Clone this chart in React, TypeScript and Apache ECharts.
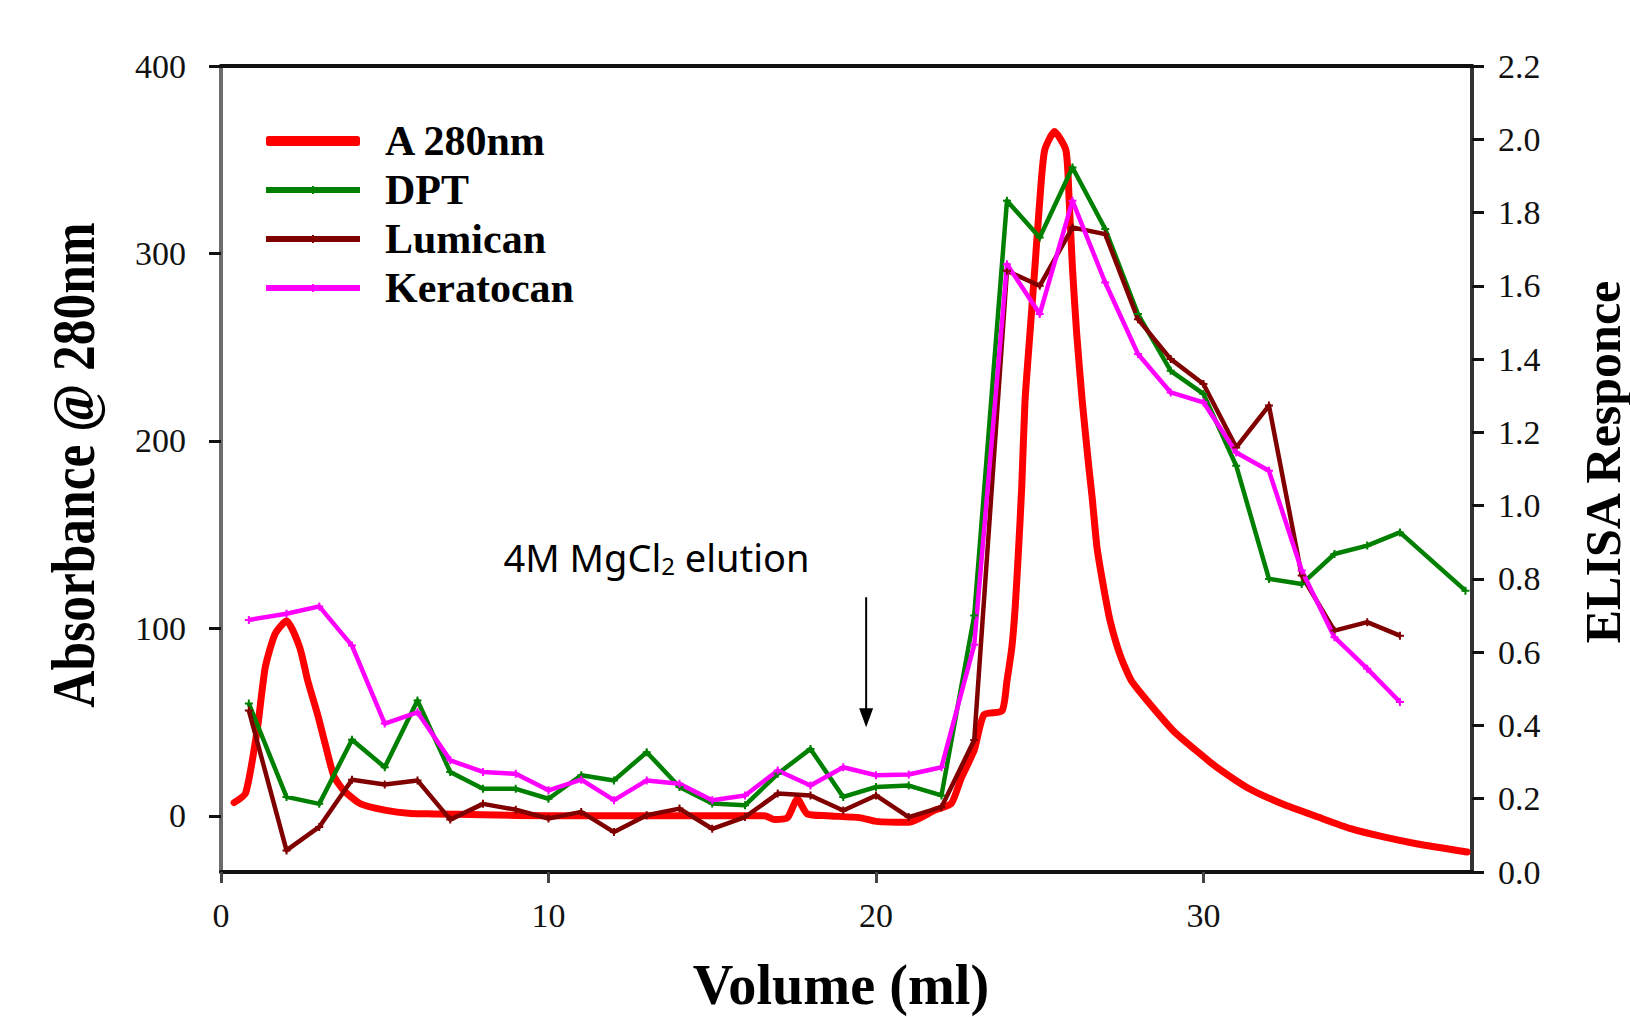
import React, { useEffect, useRef } from "react";
import * as echarts from "echarts";

// A280 absorbance (left axis)
const a280Volume = [
  0.4, 0.75, 1.1, 1.35, 1.65, 2.0, 2.4, 2.65, 2.95, 3.2,
  3.45, 3.75, 4.25, 5.0, 5.8, 6.5, 8, 10, 12, 14,
  16, 16.6, 16.9, 17.3, 17.6, 17.9, 18.5, 19.5, 20, 21,
  21.8, 22.3, 22.6, 23.0, 23.3, 23.85, 24.0, 24.15, 24.25, 24.35,
  24.45, 24.55, 24.7, 24.85, 25.0, 25.15, 25.45, 25.8, 25.9, 26.0,
  26.13, 26.3, 26.5, 26.6, 26.75, 26.95, 27.15, 27.45, 27.8, 28.3,
  29.1, 29.9, 30.4, 31.4, 32.4, 33.5, 34.5, 35.5, 36.5, 38.05,
];
const a280Absorbance = [
  7, 12, 45, 79, 97, 104, 90, 72, 54, 37,
  21, 13.5, 6.5, 3, 1.2, 1, 0.5, 0, 0, 0,
  0, 0, -2, -1, 9, 1, 0, -1, -3, -3.5,
  3, 6.5, 20, 35, 54, 56, 72, 90, 111, 141,
  175, 221, 257, 292, 328, 355, 365, 355, 328, 292,
  257, 221, 186, 170, 143, 122, 104, 86, 72, 61,
  45, 33, 26, 14.4, 6.4, -0.7, -6.9, -11.3, -14.9, -19.3,
];

// ELISA responses (right axis)
const elisaVolume = [
  0.85, 2, 3, 4, 5, 6, 7, 8, 9, 10, 11, 12, 13, 14, 15, 16, 17, 18,
  19, 20, 21, 22, 23, 24, 25, 26, 27, 28, 29, 30, 31, 32, 33, 34, 35, 36,
];
const dptVolume = [
  0.85, 2, 3, 4, 5, 6, 7, 8, 9, 10, 11, 12, 13, 14, 15, 16, 17, 18,
  19, 20, 21, 22, 23, 24, 25, 26, 27, 28, 29, 30, 31, 32, 33, 34, 35, 36, 38,
];
const dptResponse = [
  0.46, 0.205, 0.186, 0.361, 0.286, 0.468, 0.273, 0.227, 0.227, 0.2, 0.264, 0.25,
  0.327, 0.232, 0.187, 0.182, 0.268, 0.336, 0.205, 0.232, 0.236, 0.209, 0.7, 1.832,
  1.732, 1.923, 1.755, 1.523, 1.368, 1.305, 1.109, 0.8, 0.786, 0.868, 0.891, 0.927, 0.768,
];
const lumicanResponse = [
  0.441, 0.059, 0.123, 0.252, 0.239, 0.25, 0.143, 0.186, 0.17, 0.146, 0.164, 0.109,
  0.155, 0.173, 0.118, 0.15, 0.214, 0.209, 0.168, 0.209, 0.15, 0.177, 0.36, 1.641,
  1.6, 1.759, 1.741, 1.509, 1.4, 1.332, 1.159, 1.273, 0.809, 0.659, 0.682, 0.645,
];
const keratocanResponse = [
  0.688, 0.705, 0.725, 0.618, 0.405, 0.436, 0.305, 0.273, 0.268, 0.223, 0.252, 0.196,
  0.25, 0.241, 0.196, 0.209, 0.277, 0.236, 0.286, 0.264, 0.266, 0.286, 0.62, 1.659,
  1.523, 1.832, 1.609, 1.414, 1.309, 1.282, 1.145, 1.095, 0.823, 0.641, 0.555, 0.464,
];

const leftTicks = [0, 100, 200, 300, 400];
const seriesNames = ["A 280nm", "DPT", "Lumican", "Keratocan"];

// annotation anchor (data coordinates, right axis)
const arrowVolume = 19.7;
const arrowTop = 0.75;
const arrowTip = 0.395;
const labelVolume = 13.3;
const labelResponse = 0.86;

const zip = (xs: number[], ys: number[]) => xs.map((x, i) => [x, ys[i]]);

export default function App() {
  const ref = useRef<HTMLDivElement>(null);
  useEffect(() => {
    const chart = echarts.init(ref.current!, null, { renderer: "svg" });
    const serif = "'Liberation Serif', 'Times New Roman', serif";
    const sans = "'Noto Sans', 'Open Sans', sans-serif";
    const plus = "path://M3,0H5V3H8V5H5V8H3V5H0V3H3Z";
    const elisa = (name: string, color: string, xs: number[], ys: number[]) => ({
      name,
      type: "line",
      xAxisIndex: 0,
      yAxisIndex: 1,
      data: zip(xs, ys),
      symbol: plus,
      symbolSize: 8,
      showSymbol: true,
      lineStyle: { color, width: 4.5, join: "round" },
      itemStyle: { color },
      emphasis: { disabled: true },
    });
    const option: any = {
      animation: false,
      backgroundColor: "#ffffff",
      grid: { left: 221, right: 158, top: 66, bottom: 145 },
      legend: {
        orient: "vertical",
        left: 258,
        top: 115,
        itemWidth: 94,
        itemHeight: 10,
        itemGap: 7,
        data: [
          { name: seriesNames[0], icon: "roundRect", itemStyle: { color: "#ff0000" } },
          { name: seriesNames[1], lineStyle: { width: 6 } },
          { name: seriesNames[2], lineStyle: { width: 6 } },
          { name: seriesNames[3], lineStyle: { width: 6 } },
        ],
        textStyle: {
          fontFamily: serif,
          fontWeight: "bold",
          fontSize: 42,
          lineHeight: 42,
          color: "#000",
          padding: [0, 0, 0, 20],
        },
      },
      xAxis: [
        {
          type: "value",
          min: 0,
          max: 38.2,
          interval: 10,
          position: "bottom",
          axisLine: { show: true, onZero: false, lineStyle: { color: "#111", width: 4 } },
          axisTick: { show: true, length: 11, lineStyle: { color: "#444", width: 3 } },
          axisLabel: {
            margin: 26,
            fontSize: 34,
            fontFamily: serif,
            color: "#111",
            showMaxLabel: false,
          },
          splitLine: { show: false },
        },
        {
          type: "value",
          min: 0,
          max: 38.2,
          position: "top",
          axisLine: { show: true, onZero: false, lineStyle: { color: "#111", width: 4 } },
          axisTick: { show: false },
          axisLabel: { show: false },
          splitLine: { show: false },
        },
      ],
      yAxis: [
        {
          type: "value",
          min: -30,
          max: 400,
          position: "left",
          axisLine: { show: true, onZero: false, lineStyle: { color: "#6b6b6b", width: 4 } },
          axisTick: { show: true, length: 12, customValues: leftTicks, lineStyle: { color: "#111", width: 3 } },
          axisLabel: { customValues: leftTicks, margin: 35, fontSize: 34, fontFamily: serif, color: "#111" },
          splitLine: { show: false },
        },
        {
          type: "value",
          min: 0,
          max: 2.2,
          interval: 0.2,
          position: "right",
          axisLine: { show: true, onZero: false, lineStyle: { color: "#333", width: 4 } },
          axisTick: { show: true, length: 12, lineStyle: { color: "#111", width: 3 } },
          axisLabel: {
            margin: 26,
            fontSize: 34,
            fontFamily: serif,
            color: "#111",
            formatter: (v: number) => v.toFixed(1),
          },
          splitLine: { show: false },
        },
      ],
      series: [
        {
          name: "A 280nm",
          type: "line",
          xAxisIndex: 0,
          yAxisIndex: 0,
          data: zip(a280Volume, a280Absorbance),
          symbol: "none",
          smooth: 0.2,
          lineStyle: { color: "#ff0000", width: 7, join: "round", cap: "round" },
          itemStyle: { color: "#ff0000" },
          emphasis: { disabled: true },
        },
        elisa("DPT", "#008000", dptVolume, dptResponse),
        elisa("Lumican", "#800000", elisaVolume, lumicanResponse),
        elisa("Keratocan", "#ff00ff", elisaVolume, keratocanResponse),
      ],
    };
    chart.setOption(option);

    const top = chart.convertToPixel({ seriesIndex: 1 }, [arrowVolume, arrowTop]) as number[];
    const tip = chart.convertToPixel({ seriesIndex: 1 }, [arrowVolume, arrowTip]) as number[];
    const lab = chart.convertToPixel({ seriesIndex: 1 }, [labelVolume, labelResponse]) as number[];

    chart.setOption({
      graphic: [
        {
          type: "text",
          x: 73,
          y: 465,
          rotation: Math.PI / 2,
          scaleX: 0.83,
          style: {
            text: "Absorbance @ 280nm",
            fontFamily: serif,
            fontWeight: "bold",
            fontSize: 62,
            fill: "#000",
            align: "center",
            verticalAlign: "middle",
          },
        },
        {
          type: "text",
          x: 841,
          y: 984,
          scaleX: 0.97,
          style: {
            text: "Volume (ml)",
            fontFamily: serif,
            fontWeight: "bold",
            fontSize: 58,
            fill: "#000",
            align: "center",
            verticalAlign: "middle",
          },
        },
        {
          type: "text",
          x: 1603,
          y: 462,
          rotation: Math.PI / 2,
          scaleX: 1.0,
          style: {
            text: "ELISA Responce",
            fontFamily: serif,
            fontWeight: "bold",
            fontSize: 50,
            fill: "#000",
            align: "center",
            verticalAlign: "middle",
          },
        },
        {
          type: "text",
          x: lab[0],
          y: lab[1],
          scaleX: 1.0,
          style: {
            text: "{a|4M MgCl}{b|2}{a| elution}",
            fill: "#000",
            align: "center",
            verticalAlign: "middle",
            rich: {
              a: { fontFamily: sans, fontSize: 38, fill: "#000" },
              b: { fontFamily: sans, fontSize: 24, fill: "#000", padding: [18, 0, 0, 0] },
            },
          },
        },
        {
          type: "line",
          shape: { x1: top[0], y1: top[1], x2: tip[0], y2: tip[1] - 12 },
          style: { stroke: "#000", lineWidth: 2 },
        },
        {
          type: "polygon",
          shape: {
            points: [
              [tip[0], tip[1]],
              [tip[0] - 7, tip[1] - 19],
              [tip[0] + 7, tip[1] - 19],
            ],
          },
          style: { fill: "#000" },
        },
      ],
    });
    return () => chart.dispose();
  }, []);
  return (
    <div
      ref={ref}
      style={{ position: "fixed", left: 0, top: 0, width: 1630, height: 1017, background: "#fff" }}
    />
  );
}
